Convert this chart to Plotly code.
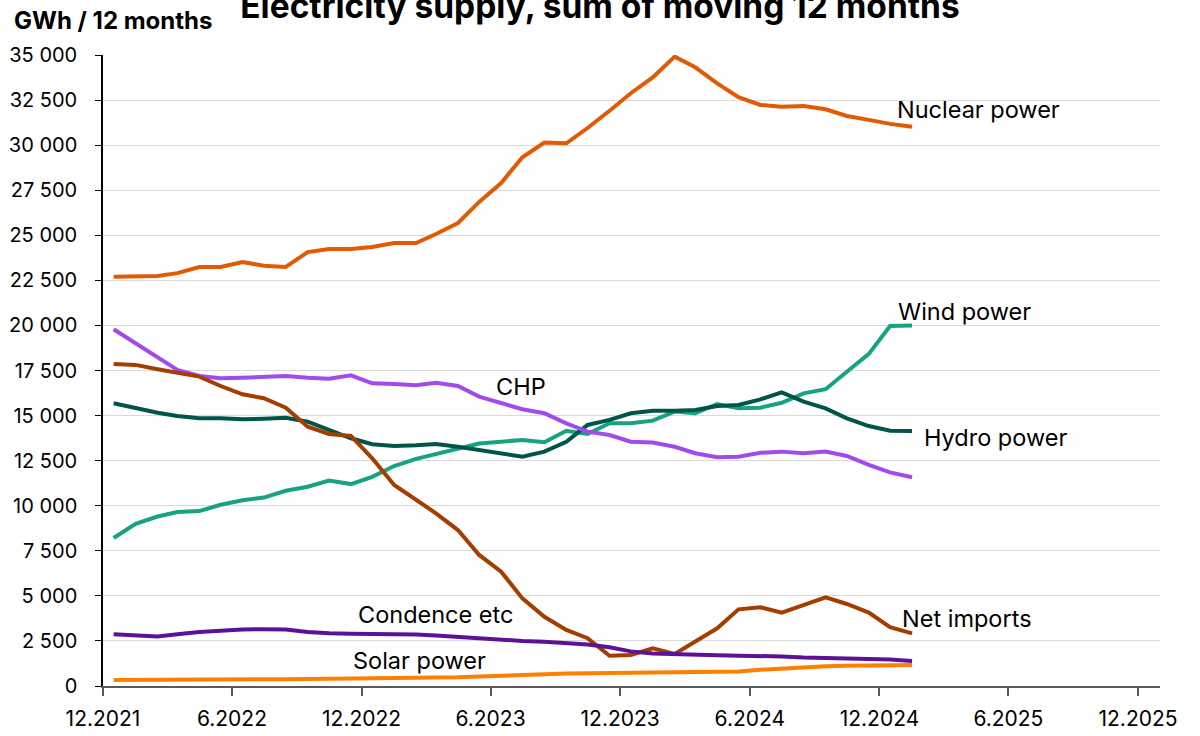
import pandas as pd
import plotly.graph_objects as go

# Monthly points 12.2021 .. 1.2025 (38 months)
months = pd.date_range("2021-12-01", periods=38, freq="MS") + pd.Timedelta(days=15)

nuclear = [22700, 22700, 22740, 22900, 23240, 23240, 23520, 23310, 23240, 24070,
           24240, 24240, 24350, 24570, 24570, 25070, 25680, 26850, 27900, 29330,
           30140, 30100, 30950, 31910, 32880, 33760, 34910, 34320, 33430, 32660,
           32230, 32130, 32170, 31990, 31620, 31400, 31180, 31020]
wind = [8210, 9000, 9400, 9650, 9700, 10050, 10300, 10450, 10830, 11050,
        11400, 11200, 11600, 12200, 12600, 12850, 13150, 13450, 13550, 13650,
        13520, 14160, 13980, 14570, 14570, 14720, 15220, 15130, 15640, 15400,
        15440, 15710, 16230, 16460, 17430, 18420, 19970, 19990]
hydro = [15680, 15400, 15160, 14980, 14850, 14850, 14790, 14830, 14880, 14660,
         14200, 13740, 13410, 13310, 13350, 13420, 13270, 13090, 12950, 12720,
         13000, 13550, 14480, 14760, 15130, 15270, 15270, 15310, 15530, 15590,
         15900, 16290, 15770, 15400, 14850, 14420, 14160, 14140]
chp = [19790, 19010, 18190, 17530, 17200, 17070, 17100, 17160, 17200, 17100,
       17040, 17230, 16790, 16750, 16680, 16820, 16640, 16050, 15700, 15350,
       15130, 14570, 14110, 13920, 13550, 13500, 13270, 12910, 12690, 12720,
       12940, 13000, 12910, 13000, 12760, 12260, 11850, 11580]
net_imports = [17860, 17810, 17570, 17350, 17160, 16640, 16180, 15960, 15440, 14380,
               13980, 13870, 12630, 11150, 10320, 9580, 8650, 7270, 6340, 4860,
               3840, 3110, 2650, 1680, 1720, 2090, 1780, 2460, 3200, 4250,
               4370, 4070, 4490, 4920, 4550, 4070, 3260, 2920]
condence = [2870, 2800, 2740, 2870, 3000, 3070, 3140, 3150, 3130, 3000,
            2920, 2900, 2900, 2850, 2850, 2800, 2720, 2660, 2550, 2500,
            2460, 2400, 2300, 2150, 1920, 1800, 1750, 1720, 1700, 1680,
            1670, 1640, 1580, 1560, 1550, 1520, 1470, 1390]
solar = [330, 330, 330, 330, 340, 350, 360, 370, 380, 390,
         400, 400, 400, 410, 420, 440, 480, 530, 580, 630,
         660, 690, 710, 730, 740, 740, 750, 760, 780, 800,
         900, 970, 1050, 1100, 1130, 1150, 1160, 1160]

series = [
    ("Nuclear power", nuclear, "#E35A05"),
    ("Wind power", wind, "#17A382"),
    ("Hydro power", hydro, "#00554B"),
    ("CHP", chp, "#A24BEB"),
    ("Net imports", net_imports, "#A33D00"),
    ("Condence etc", condence, "#5B1298"),
    ("Solar power", solar, "#FF8000"),
]

tick_dates = ["2021-12-01", "2022-06-01", "2022-12-01", "2023-06-01", "2023-12-01",
              "2024-06-01", "2024-12-01", "2025-06-01", "2025-12-01"]
tick_labels = ["12.2021", "6.2022", "12.2022", "6.2023", "12.2023",
               "6.2024", "12.2024", "6.2025", "12.2025"]
y_ticks = list(range(0, 35001, 2500))

labels = [
    ("Nuclear power", "2024-12-23", 31950),
    ("Wind power", "2024-12-25", 20800),
    ("CHP", "2023-06-06", 16640),
    ("Hydro power", "2025-01-30", 13810),
    ("Condence etc", "2022-11-23", 3990),
    ("Net imports", "2024-12-30", 3720),
    ("Solar power", "2022-11-16", 1390),
]

FONT = "Inter, Noto Sans, sans-serif"

fig = go.Figure()
for name, vals, color in series:
    fig.add_trace(go.Scatter(x=months, y=vals, mode="lines", name=name,
                             line=dict(color=color, width=4), showlegend=False))

for text, xd, yv in labels:
    fig.add_annotation(x=xd, y=yv, text=text, showarrow=False, xanchor="left",
                       yanchor="middle", font=dict(size=23.5, color="#000000", family=FONT))

fig.add_annotation(x=(12 - 103) / (1200 - 143), y=1 + (55 - 20) / (736 - 105),
                   xref="paper", yref="paper", text="<b>GWh / 12 months</b>",
                   showarrow=False, xanchor="left", yanchor="middle",
                   font=dict(size=24, color="#000000", family=FONT))

fig.update_layout(
    width=1200, height=736,
    margin=dict(l=103, r=40, t=55, b=50, autoexpand=False),
    paper_bgcolor="white", plot_bgcolor="white",
    separators=". ",
    title=dict(text="<b>Electricity supply, sum of moving 12 months</b>",
               x=0.5, xanchor="center", y=1 - 6.5 / 736, yanchor="middle", automargin=False,
               font=dict(size=33.5, color="#000000", family=FONT)),
    font=dict(family=FONT, color="#000000"),
)
fig.update_xaxes(
    type="date", range=["2021-12-01", "2026-01-01"],
    tickvals=tick_dates, ticktext=tick_labels, automargin=False,
    showgrid=False, showline=True, linecolor="#595959", linewidth=1.5,
    ticks="outside", ticklen=8, tickcolor="#595959", tickwidth=1.5,
    tickfont=dict(size=21, color="#000000"), zeroline=False,
    ticklabelstandoff=5,
)
fig.update_yaxes(
    range=[0, 35000], tickvals=y_ticks, tickformat=",d", automargin=False,
    showgrid=True, gridcolor="#D9D9D9", gridwidth=1,
    showline=True, linecolor="#000000", linewidth=1.5,
    ticks="outside", ticklen=6, tickcolor="#000000", tickwidth=1,
    tickfont=dict(size=20, color="#000000"), zeroline=False,
    ticklabelstandoff=14,
)
fig.write_html("out.html", config={"displayModeBar": False},
               post_script="document.body.style.margin='0';document.body.style.overflow='hidden';")
